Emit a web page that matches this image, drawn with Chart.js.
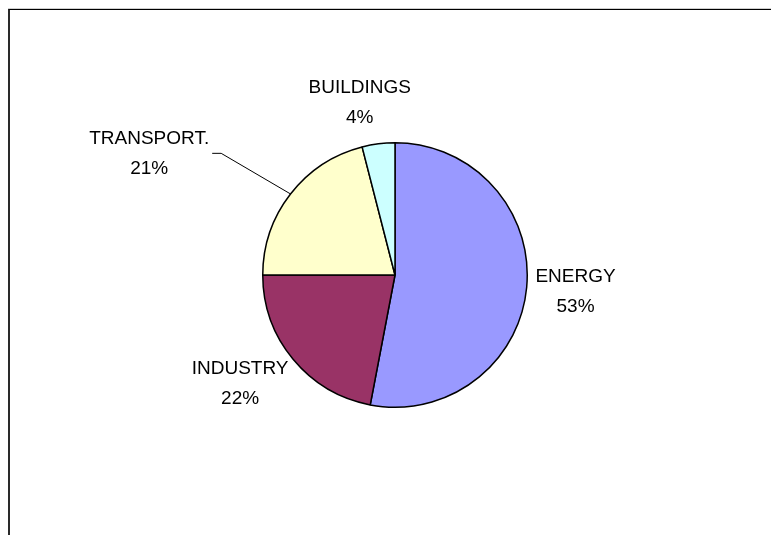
<!DOCTYPE html>
<html>
<head>
<meta charset="utf-8">
<title>Emissions by sector</title>
<script src="https://cdn.jsdelivr.net/npm/chart.js@4"></script>
<style>
  html, body { margin: 0; padding: 0; background: #fff; }
  #wrap { position: relative; width: 771px; height: 535px; overflow: hidden; }
  .frame-outer { position: absolute; left: 8px; top: 8px; width: 900px; height: 700px;
                 border-top: 1px solid #cfcfcf; }
  .frame { position: absolute; left: 8px; top: 9px; width: 900px; height: 700px;
           border-top: 1px solid #000; border-left: 2px solid #2a2a2a; }
  canvas { position: absolute; left: 0; top: 0; }
</style>
</head>
<body>
<div id="wrap">
  <div class="frame-outer"></div>
  <div class="frame"></div>
  <canvas id="pie" width="771" height="535"></canvas>
</div>
<script>
// Sector shares (percent)
const sectors = ['ENERGY', 'INDUSTRY', 'TRANSPORT.', 'BUILDINGS'];
const shares = [53, 22, 21, 4];
const sliceColors = ['#9999FF', '#993366', '#FFFFCC', '#CCFFFF'];

// Label placement tweaks: shift from the default outside position, optional leader line
const labelStyle = [
  { dx: -1, dy: 0, leader: false },
  { dx: -8, dy: 2, leader: false },
  { dx: -86, dy: -22, leader: true },
  { dx: -11, dy: -11, leader: false }
];

const LABEL_FONT = '19px "Liberation Sans", Arial, sans-serif';
const LINE_GAP = 30;
const CAP_H = 14;

const outsideLabels = {
  id: 'outsideLabels',
  afterDatasetsDraw(chart) {
    const ctx = chart.ctx;
    const meta = chart.getDatasetMeta(0);
    const values = chart.data.datasets[0].data;
    const total = values.reduce((a, b) => a + b, 0);
    ctx.save();
    ctx.font = LABEL_FONT;
    ctx.fillStyle = '#000';
    ctx.textAlign = 'center';
    ctx.textBaseline = 'alphabetic';
    meta.data.forEach((arc, i) => {
      const p = arc.getProps(['x', 'y', 'startAngle', 'endAngle', 'outerRadius'], true);
      const mid = (p.startAngle + p.endAngle) / 2;
      const ux = Math.cos(mid), uy = Math.sin(mid);
      const line1 = chart.data.labels[i];
      const line2 = Math.round(values[i] / total * 100) + '%';
      const w = Math.max(ctx.measureText(line1).width, ctx.measureText(line2).width);
      const h = LINE_GAP + CAP_H;
      const gap = 10;
      const ax = p.x + ux * (p.outerRadius + gap);
      const ay = p.y + uy * (p.outerRadius + gap);
      const st = labelStyle[i];
      const cx = ax + ux * w / 2 + st.dx;
      const cy = ay + uy * h / 2 + st.dy;
      ctx.fillText(line1, cx, cy - LINE_GAP / 2 + CAP_H / 2);
      ctx.fillText(line2, cx, cy + LINE_GAP / 2 + CAP_H / 2);
      if (st.leader) {
        const ex = p.x + ux * p.outerRadius;
        const ey = p.y + uy * p.outerRadius;
        const sx = cx + w / 2 + 3;
        const sy = cy + 1;
        ctx.beginPath();
        ctx.strokeStyle = '#000';
        ctx.lineWidth = 1;
        ctx.moveTo(sx, sy);
        ctx.lineTo(sx + 9, sy);
        ctx.lineTo(ex, ey);
        ctx.stroke();
      }
    });
    ctx.restore();
  }
};

new Chart(document.getElementById('pie'), {
  type: 'pie',
  data: {
    labels: sectors,
    datasets: [{
      data: shares,
      backgroundColor: sliceColors,
      borderColor: '#000',
      borderWidth: 1.5
    }]
  },
  options: {
    responsive: false,
    animation: false,
    layout: { padding: { left: 262, right: 243, top: 142, bottom: 127 } },
    plugins: {
      legend: { display: false },
      tooltip: { enabled: false },
      title: { display: false }
    }
  },
  plugins: [outsideLabels]
});
</script>
</body>
</html>
